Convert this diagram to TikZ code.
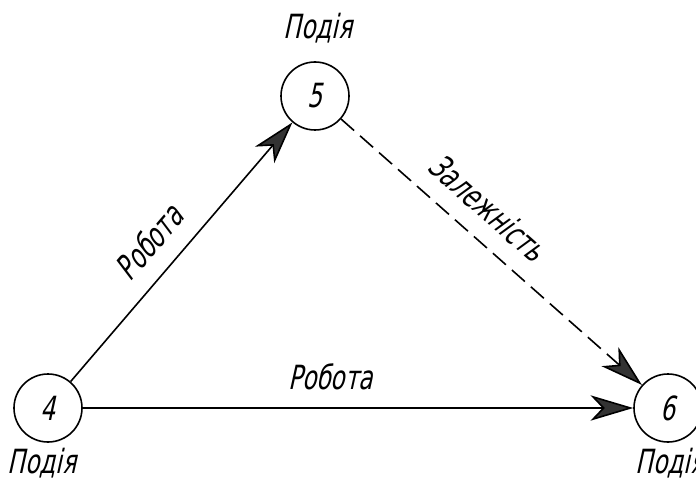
\documentclass[tikz,border=0pt]{standalone}
\usepackage{fontspec}
\newfontfamily\gostfont[FakeSlant=0.22,FakeStretch=0.7]{DejaVu Sans}
\usetikzlibrary{arrows.meta, positioning}

\begin{document}
\begin{tikzpicture}[
  x=0.75pt, y=-0.75pt,
  font=\gostfont\fontsize{25}{30}\selectfont,
  event/.style={circle, draw, line width=1.2pt, minimum size=51pt, inner sep=0pt},
  arr/.style={-{Stealth[length=32pt, width=19pt, inset=9pt, fill=black!80]}, line width=1.2pt},
  lbl/.style={sloped, above=13pt, inner sep=0pt},
]
\useasboundingbox (0,0) rectangle (696,481);
% Events
\node[event] (e4) at (48,408) {4};
\node[event] (e5) at (315,96) {5};
\node[event] (e6) at (668,408) {6};
\node[inner sep=1pt] (t4) at (42,463) {Подія};
\node[inner sep=1pt] (t5) at (318,28) {Подія};
\node[inner sep=1pt] (t6) at (670,463) {Подія};
% Works and dependency
\draw[arr] (e4) -- (e5) node[lbl, pos=0.46] {Робота};
\draw[arr] (e4) -- (e6) node[lbl, pos=0.45] {Робота};
\draw[arr, dash pattern=on 13pt off 6pt] (e5) -- (e6) node[lbl, pos=0.42] {Залежність};
\end{tikzpicture}
\end{document}
